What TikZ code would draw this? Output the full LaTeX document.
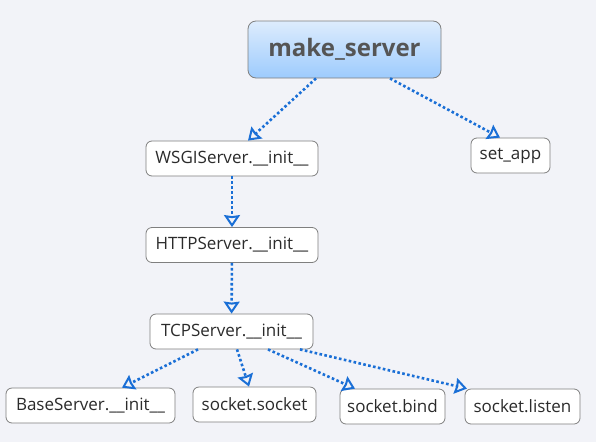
\documentclass[tikz,border=0pt]{standalone}
\usepackage{fontspec}
\setmainfont{Open Sans}
\usetikzlibrary{arrows.meta}

\definecolor{bgcol}{HTML}{F2F3F8}
\definecolor{edgecol}{HTML}{1A6FD6}
\definecolor{framecol}{HTML}{7F7F7F}
\definecolor{textcol}{HTML}{2B2B2B}
\definecolor{topcol}{HTML}{DDECFD}
\definecolor{botcol}{HTML}{9DCBFD}

\tikzstyle{func}=[draw=framecol,fill=white,rounded corners=6pt,line width=0.8pt,
  minimum height=35pt,inner xsep=4pt,text=textcol,font=\fontsize{17}{20}\selectfont]
\tikzstyle{root}=[draw=framecol,top color=topcol,bottom color=botcol,rounded corners=8pt,
  line width=0.8pt,minimum width=193pt,minimum height=57pt,text=textcol!80,
  font=\fontsize{24}{28}\selectfont\bfseries]
\tikzstyle{call}=[edgecol,line width=2.6pt,dash pattern=on 2.6pt off 2.4pt,
  -{Stealth[open,length=12pt,width=16pt,line width=2pt,inset=1pt]}]

\begin{document}
\begin{tikzpicture}[x=1pt,y=-1pt]
\fill[bgcol] (0,0) rectangle (596,442);

\node[root] (make) at (344.5,49.5) {make\_server};
\node[func,minimum width=172pt] (wsgi) at (232,158.5) {WSGIServer.\_\_init\_\_};
\node[func,minimum width=79pt] (setapp) at (510.5,155.5) {set\_app};
\node[func,minimum width=172pt] (http) at (232,245) {HTTPServer.\_\_init\_\_};
\node[func,minimum width=163pt] (tcp) at (231.5,331.5) {TCPServer.\_\_init\_\_};
\node[func,minimum width=169pt] (base) at (90.5,405.5) {BaseServer.\_\_init\_\_};
\node[func,minimum width=123pt] (sock) at (254.5,404.5) {socket.socket};
\node[func,minimum width=105pt] (bind) at (392.5,406.5) {socket.bind};
\node[func,minimum width=115pt] (listen) at (522.5,406.5) {socket.listen};

\draw[call] (make.south -| 316,0) -- (wsgi.north -| 248,0);
\draw[call] (make.south -| 390,0) -- (setapp.north -| 500,0);
\draw[call] (wsgi) -- (http);
\draw[call] (http) -- (tcp);
\draw[call] (tcp.south -| 198,0) -- (base.north -| 122,0);
\draw[call] (tcp.south -| 237,0) -- (sock.north -| 249,0);
\draw[call] (tcp.south -| 268,0) -- (bind.north -| 355,0);
\draw[call] (tcp.south -| 300,0) -- (listen.north -| 467,0);

\end{tikzpicture}
\end{document}
